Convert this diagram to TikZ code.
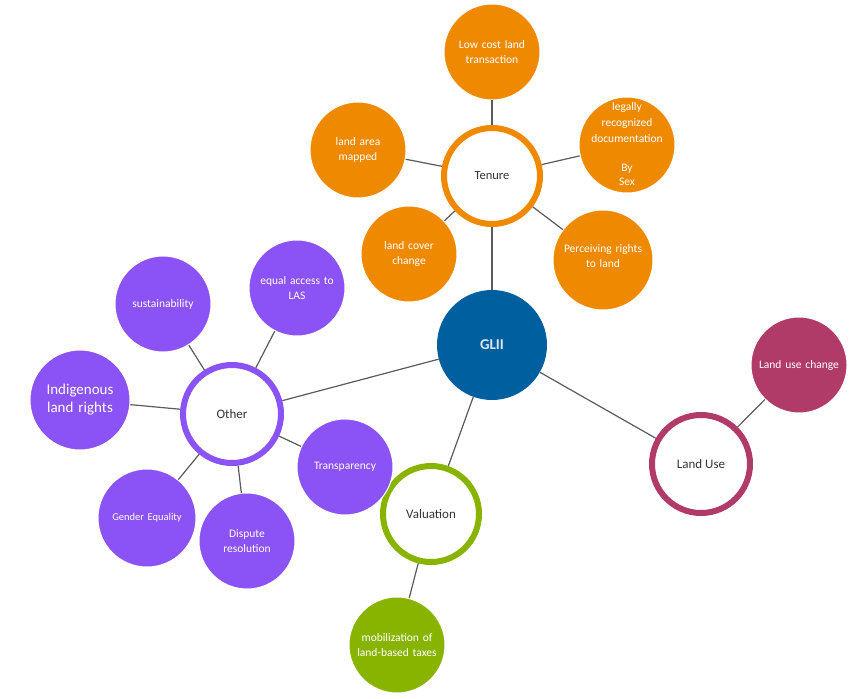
\documentclass[tikz,border=0pt]{standalone}
\usepackage{fontspec}
\setmainfont{Carlito}
\definecolor{orng}{HTML}{EF8A00}
\definecolor{purp}{HTML}{8B52F6}
\definecolor{glblue}{HTML}{005F9E}
\definecolor{grn}{HTML}{88B400}
\definecolor{maroon}{HTML}{B03B69}
\definecolor{edgegray}{HTML}{5A5A5A}
\definecolor{txtgray}{HTML}{333333}
\newcommand{\flattext}[1]{\makebox[0pt]{\smash{\raisebox{-2.5pt}{\begin{tabular}{@{}c@{}}#1\end{tabular}}}}}
\begin{document}
\begin{tikzpicture}[x=1pt,y=-1pt,
  leaf/.style={circle,fill=#1,draw=white,line width=1pt,minimum size=96pt,inner sep=0pt,
    text=white,font=\fontsize{11.5}{15.5}\selectfont,align=center,text width=92pt},
  ring/.style={circle,fill=white,draw=#1,line width=6pt,minimum size=96pt,inner sep=0pt,
    text=txtgray,font=\fontsize{13}{15}\selectfont,align=center},
  link/.style={draw=edgegray,line width=1.2pt}]
\useasboundingbox (0,0) rectangle (858,698);
% hub
\node[circle,fill=glblue,minimum size=110pt,inner sep=0pt,text=white!85!glblue,
  font=\bfseries\fontsize{15}{17}\selectfont] (glii) at (492,345) {GLII};
% main rings
\node[ring=orng,font=\fontsize{12.5}{15}\selectfont] (ten) at (492,176) {Tenure};
\node[ring=purp,minimum size=98pt] (oth) at (232,414) {Other};
\node[ring=grn] (val) at (431,514) {Valuation};
\node[ring=maroon,minimum size=98pt] (lu) at (701,464) {Land Use};
% tenure leaves
\node[leaf=orng] (t1) at (492,52) {Low cost land\\transaction};
\node[leaf=orng] (t2) at (358,150) {land area\\mapped};
\node[leaf=orng,font=\fontsize{11.5}{16}\selectfont] (t3) at (627,145)
  {\flattext{legally\\recognized\\documentation\\[13pt]By\\[-2pt]Sex}};
\node[leaf=orng] (t4) at (409,254) {land cover\\change};
\node[leaf=orng,minimum size=100pt] (t5) at (603,260) {\raisebox{4pt}{}Perceiving rights\\to land\\[-8pt]\mbox{}};
% other leaves
\node[leaf=purp] (o1) at (163,304) {sustainability};
\node[leaf=purp] (o2) at (297,288) {equal access to\\LAS};
\node[leaf=purp,minimum size=100pt,font=\fontsize{15}{18}\selectfont] (o3) at (80,400) {Indigenous\\land rights};
\node[leaf=purp,minimum size=98pt,font=\fontsize{10.5}{12}\selectfont] (o5) at (147,518) {Gender Equality};
\node[leaf=purp] (o4) at (345,467) {Transparency};
\node[leaf=purp] (o6) at (247,541) {Dispute\\resolution};
% valuation leaf
\node[leaf=grn] (v1) at (397,645) {mobilization of\\land-based taxes};
% land use leaf
\node[leaf=maroon] (l1) at (799,365) {Land use change};
% connectors
\draw[link] (glii) -- (ten);
\draw[link] (glii) -- (oth);
\draw[link] (glii) -- (val);
\draw[link] (glii) -- (lu);
\foreach \n in {t1,t2,t3,t4,t5} \draw[link] (ten) -- (\n);
\foreach \n in {o1,o2,o3,o4,o5,o6} \draw[link] (oth) -- (\n);
\draw[link] (val) -- (v1);
\draw[link] (lu) -- (l1);
\end{tikzpicture}
\end{document}
